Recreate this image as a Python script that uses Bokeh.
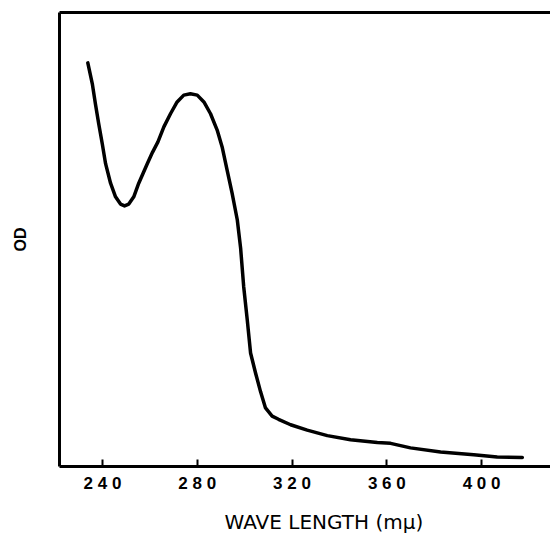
from bokeh.plotting import figure
from bokeh.models import Range1d, LinearAxis, FixedTicker, Title
from bokeh.embed import file_html
from bokeh.resources import INLINE

# Spectrum (OD in arbitrary units, 0 = baseline, 1 = top of frame)
wavelength = [233.8, 235.7, 237.0, 238.4, 239.9, 241.3, 243.4, 245.5, 247.6, 249.3,
              251.1, 253.2, 255.3, 258.9, 261.1, 263.4, 265.9, 268.7, 271.5, 274.3,
              277.1, 280.0, 282.8, 285.6, 288.4, 290.5, 292.6, 294.7, 296.9, 298.3,
              299.6, 301.1, 302.5, 304.6, 306.7, 308.8, 311.6, 314.3, 319.4, 326.4,
              334.9, 344.7, 356.0, 361.6, 370.0, 382.7, 396.7, 406.6, 417.2]
od = [0.889, 0.843, 0.799, 0.755, 0.711, 0.667, 0.624, 0.594, 0.578, 0.574,
      0.578, 0.594, 0.624, 0.667, 0.692, 0.715, 0.748, 0.777, 0.803, 0.818,
      0.821, 0.818, 0.803, 0.777, 0.741, 0.704, 0.653, 0.602, 0.543, 0.481,
      0.396, 0.323, 0.250, 0.206, 0.165, 0.129, 0.111, 0.104, 0.092, 0.080,
      0.068, 0.059, 0.053, 0.051, 0.041, 0.032, 0.026, 0.021, 0.020]

tick_values = [240, 280, 320, 360, 400]
tick_labels = ["240", "280", "320", "360", "400"]
x_label = "WAVE LENGTH (mμ)"
y_label = "OD"

p = figure(width=550, height=546, output_backend="svg", toolbar_location=None,
           x_range=Range1d(221.85, 429.1), y_range=Range1d(0, 1),
           x_axis_location=None, y_axis_location=None,
           min_border_left=59, min_border_right=0, min_border_top=12, min_border_bottom=79)
p.outline_line_color = None
p.grid.visible = False
p.background_fill_color = "white"
p.border_fill_color = "white"

p.line(wavelength, od, line_color="black", line_width=3.5, line_join="round", line_cap="round")

# bottom axis
xa = LinearAxis(ticker=FixedTicker(ticks=tick_values, minor_ticks=[]),
                major_label_overrides={v: " ".join(l) for v, l in zip(tick_values, tick_labels)})
xa.axis_line_width = 3
xa.axis_line_color = "black"
xa.major_tick_in = 7
xa.major_tick_out = 0
xa.major_tick_line_width = 2
xa.major_tick_line_color = "black"
xa.minor_tick_line_color = None
xa.major_label_standoff = 7
xa.major_label_text_font = "Liberation Sans"
xa.major_label_text_font_style = "bold"
xa.major_label_text_font_size = "17px"
xa.major_label_text_color = "black"
p.add_layout(xa, "below")

p.add_layout(Title(text=x_label, align="left", offset=165, text_font="DejaVu Sans",
                   text_font_style="normal", text_font_size="20px", text_color="black",
                   standoff=25), "below")

# left axis
ya = LinearAxis(ticker=FixedTicker(ticks=[], minor_ticks=[]), axis_label=y_label)
ya.axis_line_width = 3
ya.axis_line_color = "black"
ya.major_tick_line_color = None
ya.minor_tick_line_color = None
ya.major_label_text_font_size = "0px"
ya.axis_label_text_font = "Liberation Sans"
ya.axis_label_text_font_style = "bold"
ya.axis_label_text_font_size = "16px"
ya.axis_label_text_color = "black"
ya.axis_label_standoff = 31
p.add_layout(ya, "left")

# top line
ta = LinearAxis(ticker=FixedTicker(ticks=[], minor_ticks=[]))
ta.axis_line_width = 3
ta.axis_line_color = "black"
ta.major_tick_line_color = None
ta.minor_tick_line_color = None
ta.major_label_text_font_size = "0px"
p.add_layout(ta, "above")

open("out.html", "w").write(file_html(p, INLINE))
